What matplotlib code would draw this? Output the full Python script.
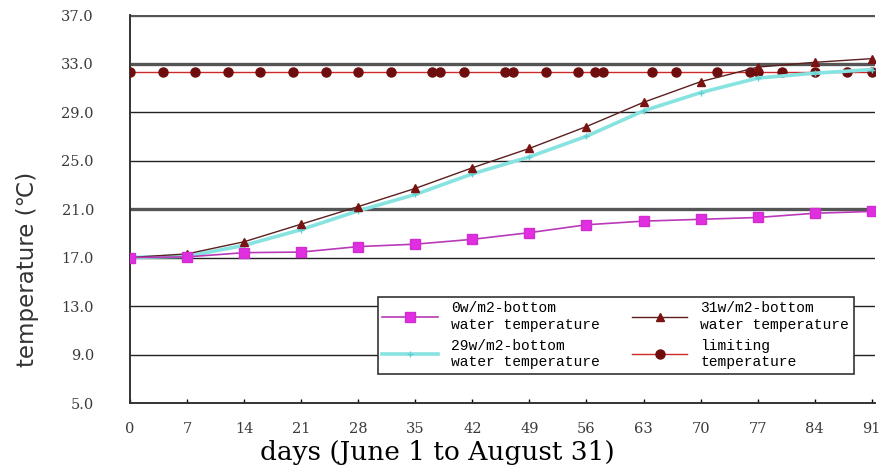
import numpy as np
import matplotlib.pyplot as plt

# weekly readings, days since June 1
days = [0, 7, 14, 21, 28, 35, 42, 49, 56, 63, 70, 77, 84, 91]
temp_0w = [17.0, 17.05, 17.4, 17.45, 17.9, 18.1, 18.5, 19.05, 19.7, 20.0, 20.15, 20.3, 20.65, 20.8]
temp_29w = [17.0, 17.1, 18.0, 19.3, 20.85, 22.2, 23.9, 25.3, 27.0, 29.1, 30.6, 31.8, 32.2, 32.5]
temp_31w = [17.0, 17.3, 18.3, 19.75, 21.2, 22.7, 24.4, 26.0, 27.8, 29.8, 31.5, 32.7, 33.1, 33.4]

# limiting temperature sampled on irregular days
limit_days = [0, 4, 8, 12, 16, 20, 24, 28, 32, 37, 38, 41, 46, 47, 51, 55, 57, 58,
              64, 67, 72, 76, 77, 80, 84, 88, 91]
limit_temp = [32.3, 32.3, 32.3, 32.3, 32.3, 32.3, 32.3, 32.3, 32.3, 32.3, 32.3, 32.3,
              32.3, 32.3, 32.3, 32.3, 32.3, 32.3, 32.3, 32.3, 32.3, 32.3, 32.3, 32.3,
              32.3, 32.3, 32.3]

yticks = [5, 9, 13, 17, 21, 25, 29, 33, 37]
xticks = [0, 7, 14, 21, 28, 35, 42, 49, 56, 63, 70, 77, 84, 91]

fig = plt.figure(figsize=(8.87, 4.69), dpi=100)
ax = fig.add_axes([0.1466, 0.1407, 0.8399, 0.8273])

ax.plot(limit_days, limit_temp, color='#cc2a2a', lw=1.0, marker='o', ms=6.5,
        mfc='#6e0d0d', mec='#6e0d0d', zorder=3,
        label='limiting\ntemperature')
ax.plot(days, temp_29w, color='#86e3e0', lw=2.6, marker='+', ms=4,
        mec='#5fcfcf', zorder=4,
        label='29w/m2-bottom\nwater temperature')
ax.plot(days, temp_31w, color='#5c2020', lw=1.0, marker='^', ms=6,
        mfc='#7a1212', mec='#7a1212', zorder=5,
        label='31w/m2-bottom\nwater temperature')
ax.plot(days, temp_0w, color='#b83ab8', lw=1.2, marker='s', ms=6.5,
        mfc='#e02ee0', mec='#d02ed0', zorder=6,
        label='0w/m2-bottom\nwater temperature')

ax.set_xlim(0, 91.4)
ax.set_ylim(5, 37)
ax.set_yticks(yticks)
ax.set_yticklabels(['%.1f' % v for v in yticks])
ax.set_xticks(xticks)

tick_font = dict(family='DejaVu Serif', size=10.5, color='#3a3a3a')
for lab in ax.get_xticklabels() + ax.get_yticklabels():
    lab.set(**tick_font)
ax.tick_params(axis='y', length=0, pad=26)
ax.tick_params(axis='x', direction='in', length=3, width=1, pad=14)

ax.grid(axis='y', color='#222222', lw=1.0)
ax.set_axisbelow(True)
# some grid lines come out heavier
for val, gl in zip(yticks, ax.get_ygridlines()):
    if val in (21, 33, 37):
        gl.set_color('#555555')
        gl.set_linewidth(2.4)

for side in ('top', 'right'):
    ax.spines[side].set_visible(False)
for side in ('left', 'bottom'):
    ax.spines[side].set_color('#333333')
    ax.spines[side].set_linewidth(1.4)

ax.set_xlabel('days (June 1 to August 31)', family='DejaVu Serif', size=19)
ax.xaxis.set_label_coords(0.412, -0.096)
ax.set_ylabel('temperature (℃)', family=['DejaVu Sans'], size=16.5, color='#333333')
ax.yaxis.set_label_coords(-0.122, 0.345)

h, l = ax.get_legend_handles_labels()
order = [3, 1, 2, 0]
leg = ax.legend([h[i] for i in order], [l[i] for i in order], ncol=2,
                loc='upper left', bbox_to_anchor=(0.333, 0.273), borderaxespad=0,
                fancybox=False, framealpha=1, edgecolor='#333333',
                prop=dict(family='Liberation Mono', size=10.5),
                handlelength=3.8, handletextpad=0.9, columnspacing=2.2,
                labelspacing=0.5, borderpad=0.3)
leg.get_frame().set_linewidth(1.2)

fig.savefig('out.png', dpi=100)
